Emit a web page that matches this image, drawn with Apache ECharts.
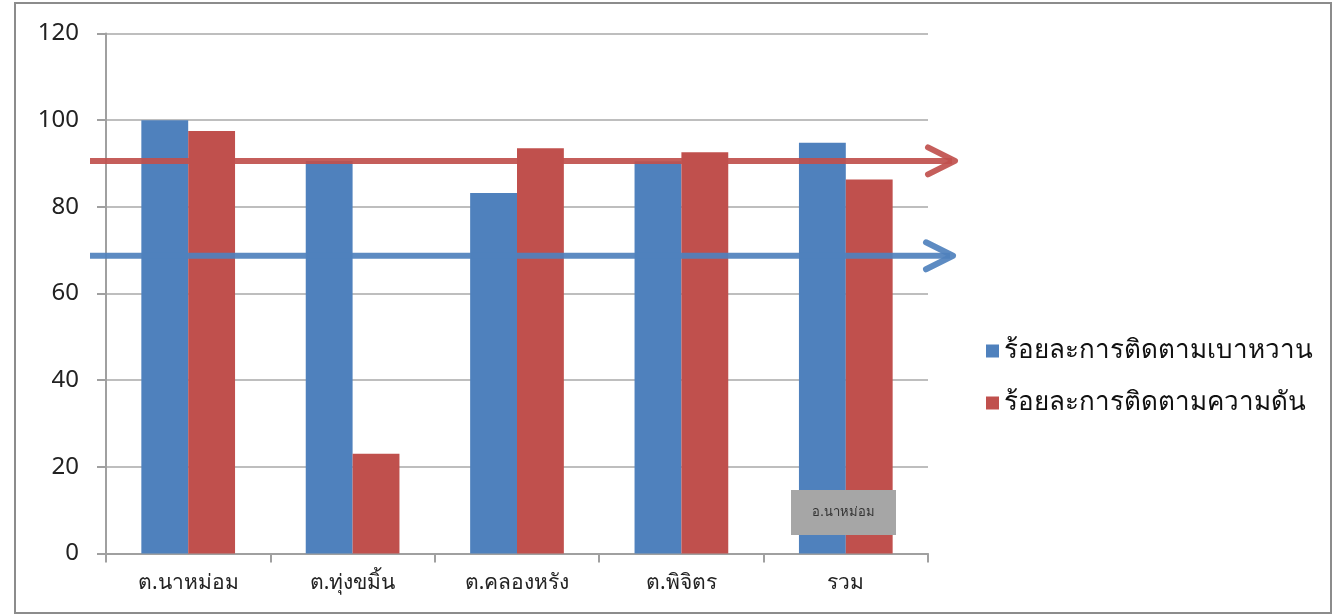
<!DOCTYPE html>
<html>
<head>
<meta charset="utf-8">
<script src="https://cdn.jsdelivr.net/npm/echarts@6/dist/echarts.min.js"></script>
<style>
  html, body { margin: 0; padding: 0; background: #ffffff; }
  #chart { width: 1332px; height: 615px; }
</style>
</head>
<body>
<div id="chart"></div>
<script>
// Sub-districts and the district total
const categories = ['ต.นาหม่อม', 'ต.ทุ่งขมิ้น', 'ต.คลองหรัง', 'ต.พิจิตร', 'รวม'];
// Follow-up percentage, diabetes
const diabetesFollowUp = [100, 90.6, 83.2, 90.5, 94.8];
// Follow-up percentage, hypertension
const pressureFollowUp = [97.5, 23.0, 93.5, 92.6, 86.3];
// Target levels marked with arrows
const pressureTarget = 90.6;
const diabetesTarget = 68.7;
const yTicks = { min: 0, max: 120, interval: 20 };
const seriesNames = ['ร้อยละการติดตามเบาหวาน', 'ร้อยละการติดตามความดัน'];
const boxLabel = 'อ.นาหม่อม';

const BLUE = '#4f81bd';
const RED = '#c0504d';
const FONT = "'Noto Sans', 'DejaVu Sans', sans-serif";

const chart = echarts.init(document.getElementById('chart'), null, { renderer: 'canvas' });

const option = {
  animation: false,
  backgroundColor: '#ffffff',
  grid: { left: 106, right: 404, top: 33.5, bottom: 61.5, containLabel: false },
  legend: {
    orient: 'vertical',
    left: 986,
    top: 337,
    padding: 0,
    itemWidth: 13,
    itemHeight: 13,
    itemGap: 24,
    icon: 'rect',
    textStyle: { fontSize: 26, lineHeight: 28, color: '#111', fontFamily: FONT, padding: [0, 0, 0, 0] },
    data: seriesNames
  },
  xAxis: {
    type: 'category',
    data: categories,
    boundaryGap: true,
    axisLine: { show: true, lineStyle: { color: '#a0a0a0', width: 2 } },
    axisTick: { show: true, alignWithLabel: false, length: 9, lineStyle: { color: '#a0a0a0', width: 2 } },
    axisLabel: { fontSize: 21, color: '#222', margin: 19, fontFamily: FONT }
  },
  yAxis: {
    type: 'value',
    min: yTicks.min,
    max: yTicks.max,
    interval: yTicks.interval,
    axisLine: { show: true, lineStyle: { color: '#a0a0a0', width: 2 } },
    axisTick: { show: true, length: 9, lineStyle: { color: '#a0a0a0', width: 2 } },
    axisLabel: { fontSize: 24, color: '#222', margin: 27, fontFamily: FONT },
    splitLine: { show: true, lineStyle: { color: '#a8a8a8', width: 1.5 } }
  },
  series: [
    {
      name: seriesNames[0],
      type: 'bar',
      data: diabetesFollowUp,
      barGap: '0%',
      barCategoryGap: '43%',
      itemStyle: { color: BLUE }
    },
    {
      name: seriesNames[1],
      type: 'bar',
      data: pressureFollowUp,
      barGap: '0%',
      barCategoryGap: '43%',
      itemStyle: { color: RED }
    }
  ]
};

chart.setOption(option);

// Arrow shapes drawn on top, placed at the target values through the y axis
function arrow(value, color, x0, x1) {
  const y = chart.convertToPixel({ yAxisIndex: 0 }, value);
  const style = { stroke: color, lineWidth: 6, lineCap: 'round', lineJoin: 'round', fill: null, opacity: 0.92 };
  return [
    { type: 'line', shape: { x1: x0, y1: y, x2: x1 - 3, y2: y }, style: Object.assign({}, style, { lineCap: 'butt' }), z: 10 },
    { type: 'polyline', shape: { points: [[x1 - 27, y - 13.5], [x1, y], [x1 - 27, y + 13.5]] }, style: style, z: 10 }
  ];
}

chart.setOption({
  graphic: [
    // outer frame
    { type: 'rect', shape: { x: 15, y: 3, width: 1316, height: 610 }, style: { fill: null, stroke: '#8c8c8c', lineWidth: 2 }, z: 20 },
    ...arrow(pressureTarget, RED, 90, 955),
    ...arrow(diabetesTarget, BLUE, 90, 953),
    // district label box
    { type: 'rect', shape: { x: 791, y: 490, width: 105, height: 45 }, style: { fill: '#a6a6a6' }, z: 15 },
    { type: 'text', x: 843.5, y: 512.5, z: 16, style: { text: boxLabel, fontSize: 13, fill: '#333', align: 'center', verticalAlign: 'middle', fontFamily: FONT } }
  ]
});
</script>
</body>
</html>
